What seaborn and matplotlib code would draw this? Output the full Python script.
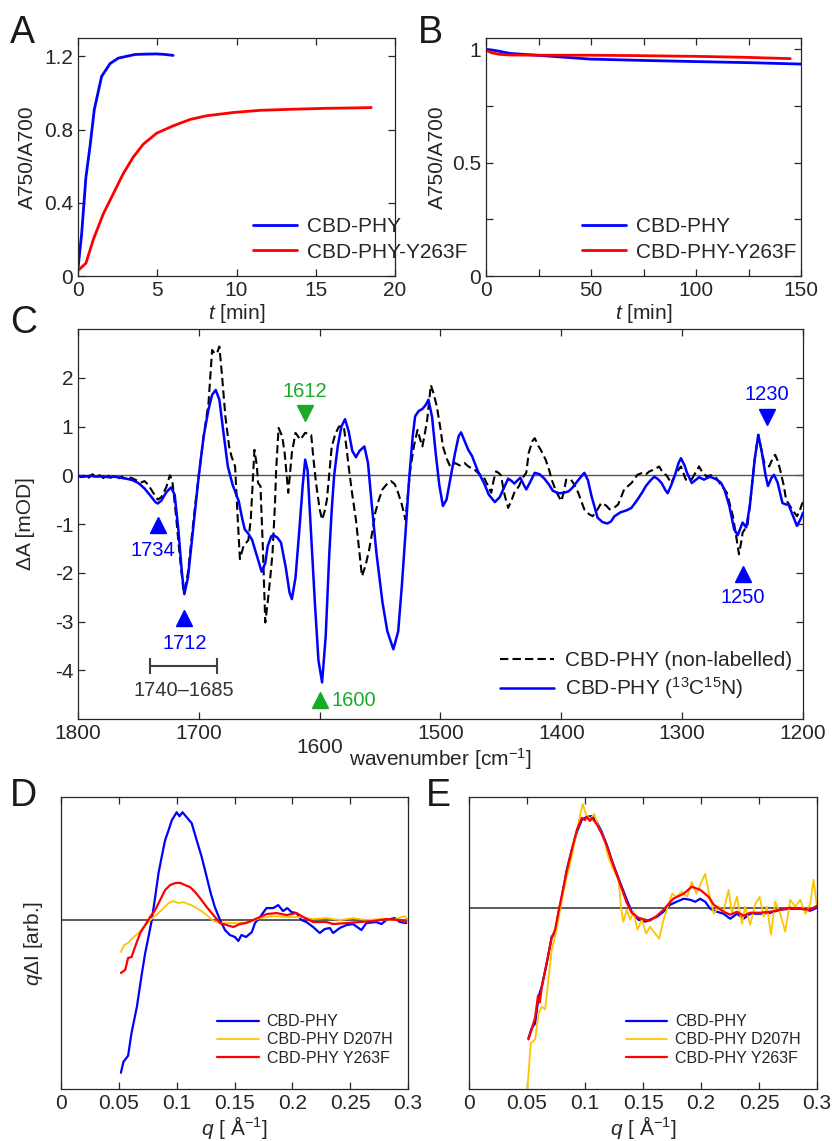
import numpy as np
import pandas as pd
import matplotlib
matplotlib.use("Agg")
import matplotlib.pyplot as plt
import seaborn as sns
from matplotlib.transforms import blended_transform_factory

# ---- A: dark reversion kinetics ----
t_wt = [0, 0.23, 0.5, 0.76, 1.03, 1.49, 2.02, 2.54, 3.07, 3.6, 4.3, 4.96, 5.5, 6.0]
r_wt = [0.04, 0.23, 0.54, 0.71, 0.91, 1.09, 1.16, 1.19, 1.20, 1.21, 1.212, 1.213, 1.21, 1.205]
t_y263 = [0, 0.5, 0.97, 1.6, 2.23, 2.86, 3.49, 4.12, 4.96, 6.0, 7.07, 8.1, 9.8, 11.5, 13.6, 15.7, 17.4, 18.5]
r_y263 = [0.03, 0.07, 0.2, 0.34, 0.45, 0.56, 0.65, 0.72, 0.78, 0.82, 0.855, 0.875, 0.893, 0.905,
          0.911, 0.916, 0.918, 0.92]

# ---- B: stability ----
tb_wt = [0, 4.9, 11.3, 27.2, 49.5, 75, 100, 126, 150]
rb_wt = [1.0, 0.994, 0.982, 0.972, 0.957, 0.951, 0.946, 0.941, 0.935]
tb_y263 = [0, 2.5, 6.5, 11.3, 27, 49.5, 75, 100, 122.6, 144.9]
rb_y263 = [0.997, 0.985, 0.978, 0.975, 0.974, 0.974, 0.972, 0.969, 0.965, 0.959]

# ---- C: FTIR difference spectra ----
wn_lab = [1800, 1795, 1790, 1785, 1780, 1775, 1770, 1765, 1760, 1755,
          1750, 1745, 1740, 1736, 1734, 1731, 1727, 1723, 1720, 1717,
          1714, 1712, 1709, 1706, 1703, 1700, 1696, 1692, 1689, 1686,
          1683, 1680, 1676, 1672, 1667, 1664, 1662, 1659, 1656, 1652,
          1648, 1645, 1643, 1640, 1638, 1635, 1632, 1628, 1625, 1623,
          1620, 1617, 1614, 1612, 1610, 1607, 1604, 1601, 1598, 1595,
          1592, 1590, 1588, 1585, 1582, 1579, 1576, 1573, 1570, 1567,
          1563, 1560, 1557, 1553, 1548, 1544, 1539, 1535, 1532, 1529,
          1526, 1523, 1521, 1518, 1515, 1512, 1510, 1507, 1504, 1501,
          1498, 1495, 1492, 1488, 1485, 1483, 1480, 1477, 1474, 1469,
          1464, 1460, 1455, 1451, 1448, 1444, 1441, 1439, 1436, 1434,
          1431, 1429, 1426, 1422, 1418, 1414, 1410, 1407, 1402, 1398,
          1394, 1391, 1386, 1381, 1378, 1375, 1370, 1366, 1362, 1359,
          1356, 1351, 1346, 1342, 1337, 1333, 1330, 1326, 1323, 1320,
          1317, 1314, 1312, 1309, 1306, 1303, 1301, 1298, 1296, 1292,
          1289, 1286, 1282, 1277, 1272, 1268, 1265, 1261, 1257, 1254,
          1252, 1250, 1247, 1244, 1240, 1237, 1234, 1231, 1229, 1226,
          1224, 1221, 1217, 1214, 1212, 1208, 1205, 1202, 1200]
dA_lab = [-0.02, -0.03, -0.01, -0.03, -0.02, -0.04, -0.03, -0.05, -0.07, -0.10,
          -0.16, -0.27, -0.42, -0.55, -0.58, -0.52, -0.35, -0.25, -0.40, -1.10,
          -2.00, -2.44, -2.10, -1.40, -0.70, 0.00, 0.80, 1.35, 1.65, 1.75,
          1.55, 0.95, 0.18, -0.20, -0.53, -0.90, -1.11, -1.20, -1.32, -1.65,
          -1.98, -1.80, -1.45, -1.25, -1.23, -1.28, -1.38, -1.90, -2.40, -2.54,
          -2.10, -1.18, -0.20, 0.32, 0.10, -1.25, -2.60, -3.80, -4.25, -3.30,
          -1.59, -0.70, 0.00, 0.60, 1.00, 1.15, 0.90, 0.50, 0.37, 0.50,
          0.59, 0.25, -0.57, -1.60, -2.61, -3.20, -3.57, -3.20, -2.27, -1.20,
          -0.09, 0.80, 1.21, 1.32, 1.36, 1.45, 1.55, 1.20, 0.46, -0.20,
          -0.63, -0.50, -0.09, 0.45, 0.80, 0.88, 0.70, 0.52, 0.40, 0.08,
          -0.16, -0.40, -0.55, -0.45, -0.29, -0.07, -0.12, -0.17, -0.10, -0.05,
          -0.20, -0.29, -0.15, 0.05, 0.02, -0.07, -0.20, -0.32, -0.37, -0.36,
          -0.33, -0.26, -0.10, 0.05, -0.10, -0.43, -0.87, -0.96, -0.99, -0.95,
          -0.84, -0.76, -0.72, -0.67, -0.50, -0.35, -0.22, -0.10, -0.03, -0.08,
          -0.16, -0.30, -0.37, -0.20, 0.00, 0.25, 0.35, 0.20, 0.05, -0.16,
          -0.10, -0.04, -0.09, -0.03, -0.08, -0.15, -0.29, -0.63, -1.11, -1.23,
          -1.10, -0.97, -1.07, -0.63, 0.32, 0.83, 0.46, 0.00, -0.22, -0.05,
          0.01, -0.15, -0.57, -0.60, -0.60, -0.85, -1.04, -0.90, -0.77]
wn_nl = [1800, 1797, 1794, 1791, 1788, 1785, 1782, 1779, 1776, 1773,
         1770, 1767, 1764, 1760, 1756, 1752, 1748, 1745, 1742, 1738,
         1734, 1731, 1727, 1724, 1722, 1719, 1716, 1713, 1712, 1709,
         1706, 1703, 1700, 1696, 1692, 1690, 1689, 1687, 1685, 1683,
         1681, 1678, 1675, 1673, 1670, 1668, 1666, 1663, 1659, 1657,
         1656, 1654, 1652, 1651, 1649, 1647, 1645, 1643, 1641, 1639,
         1637, 1636, 1634, 1631, 1629, 1626, 1623, 1620, 1616, 1614,
         1612, 1609, 1607, 1605, 1603, 1600, 1598, 1596, 1594, 1590,
         1587, 1584, 1580, 1578, 1576, 1573, 1570, 1567, 1565, 1562,
         1559, 1556, 1554, 1551, 1548, 1544, 1541, 1538, 1536, 1532,
         1529, 1527, 1525, 1522, 1519, 1517, 1515, 1513, 1511, 1508,
         1506, 1503, 1500, 1498, 1495, 1492, 1488, 1484, 1480, 1477,
         1472, 1469, 1464, 1461, 1458, 1456, 1454, 1452, 1450, 1447,
         1444, 1441, 1439, 1435, 1432, 1429, 1427, 1424, 1422, 1419,
         1417, 1413, 1410, 1408, 1404, 1400, 1398, 1396, 1392, 1389,
         1386, 1381, 1377, 1374, 1370, 1367, 1363, 1360, 1356, 1353,
         1348, 1342, 1337, 1333, 1330, 1327, 1323, 1319, 1316, 1313,
         1309, 1305, 1301, 1297, 1292, 1289, 1286, 1283, 1280, 1276,
         1272, 1269, 1263, 1258, 1255, 1253, 1251, 1250, 1248, 1246,
         1243, 1240, 1237, 1235, 1232, 1228, 1225, 1223, 1221, 1219,
         1216, 1214, 1211, 1209, 1205, 1203, 1201, 1200]
dA_nl = [0.00, -0.04, 0.01, -0.05, 0.02, -0.03, 0.00, -0.06, 0.01, -0.05,
         -0.02, -0.07, -0.03, -0.08, -0.05, -0.10, -0.15, -0.12, -0.19, -0.35,
         -0.50, -0.45, -0.25, 0.00, -0.10, -0.80, -1.60, -2.30, -2.40, -2.00,
         -1.30, -0.60, 0.00, 0.80, 1.48, 2.20, 2.57, 2.50, 2.50, 2.64,
         2.10, 1.20, 0.60, 0.39, 0.18, -0.80, -1.72, -1.45, -1.33, -0.90,
         -0.43, 0.52, 0.20, -0.16, -0.22, -1.50, -3.02, -2.60, -2.13, -1.59,
         -0.60, 0.12, 0.97, 0.80, 0.46, -0.36, 0.46, 0.87, 0.73, 0.80,
         0.87, 0.85, 0.83, 0.30, -0.16, -0.70, -0.91, -0.75, -0.50, 0.59,
         0.85, 1.00, 1.00, 0.60, 0.18, -0.40, -0.91, -1.60, -2.07, -1.85,
         -1.52, -1.10, -0.77, -0.50, -0.29, -0.17, -0.12, -0.18, -0.29, -0.60,
         -0.91, -0.40, 0.12, 0.60, 0.93, 0.75, 0.59, 0.85, 1.14, 1.85,
         1.70, 1.41, 0.95, 0.59, 0.35, 0.18, 0.25, 0.20, 0.25, 0.18,
         0.12, 0.05, -0.05, -0.20, -0.36, -0.10, 0.08, 0.05, 0.00, -0.40,
         -0.67, -0.50, -0.36, -0.22, -0.05, 0.05, 0.46, 0.70, 0.76, 0.60,
         0.52, 0.32, 0.10, -0.09, -0.35, -0.53, -0.35, -0.09, -0.09, -0.20,
         -0.36, -0.70, -0.80, -0.84, -0.70, -0.57, -0.62, -0.70, -0.66, -0.60,
         -0.29, -0.16, 0.01, 0.05, 0.02, 0.08, 0.12, 0.18, 0.05, 0.00,
         -0.16, 0.05, 0.18, -0.09, -0.08, 0.05, 0.18, 0.05, -0.02, 0.00,
         -0.05, -0.16, -0.36, -0.84, -1.30, -1.62, -1.35, -1.18, -1.10, -1.04,
         -0.40, 0.32, 0.83, 0.60, 0.25, 0.18, 0.35, 0.42, 0.30, 0.12,
         -0.20, -0.50, -0.62, -0.70, -0.84, -0.75, -0.60, -0.55]
assert len(wn_lab) == len(dA_lab) and len(wn_nl) == len(dA_nl)

# ---- D: SAXS/WAXS difference, dark-adapted ----
qd_wt = [0.0518, 0.054, 0.058, 0.061, 0.0656, 0.07, 0.0728, 0.0756, 0.0785, 0.0814,
         0.0843, 0.087, 0.09, 0.093, 0.0958, 0.1, 0.1024, 0.105, 0.1087, 0.113,
         0.1173, 0.1217, 0.126, 0.1294, 0.133, 0.1375, 0.1418, 0.146, 0.1504, 0.1533,
         0.156, 0.16, 0.165, 0.1677, 0.172, 0.1777, 0.1835, 0.1878, 0.192, 0.1956,
         0.1993, 0.2036, 0.208, 0.2122, 0.218, 0.2237, 0.228, 0.2324, 0.2353, 0.241,
         0.2468, 0.2525, 0.2597, 0.264, 0.2726, 0.277, 0.2813, 0.2885, 0.293, 0.2985]
id_wt = [-1.53, -1.42, -1.36, -1.13, -0.87, -0.53, -0.33, -0.17, 0.00, 0.23,
         0.47, 0.63, 0.80, 0.90, 1.00, 1.08, 1.04, 1.08, 1.03, 0.97,
         0.80, 0.63, 0.43, 0.27, 0.13, 0.00, -0.10, -0.15, -0.17, -0.21,
         -0.15, -0.17, -0.12, -0.03, 0.03, 0.12, 0.12, 0.15, 0.09, 0.12,
         0.08, 0.07, 0.00, -0.02, -0.07, -0.13, -0.09, -0.08, -0.13, -0.08,
         -0.05, -0.04, -0.10, -0.03, -0.02, -0.04, 0.00, 0.02, -0.02, -0.03]
qd_d207h = [0.0518, 0.0546, 0.058, 0.0627, 0.067, 0.0713, 0.0756, 0.08, 0.0843, 0.0886,
            0.093, 0.0972, 0.1015, 0.1058, 0.11, 0.1145, 0.1202, 0.126, 0.1317, 0.1375,
            0.146, 0.1547, 0.1633, 0.172, 0.1835, 0.195, 0.2065, 0.218, 0.2295, 0.241,
            0.2525, 0.264, 0.2755, 0.287, 0.297, 0.3]
id_d207h = [-0.32, -0.25, -0.23, -0.17, -0.13, -0.07, -0.02, 0.03, 0.07, 0.12,
            0.17, 0.19, 0.17, 0.18, 0.16, 0.14, 0.10, 0.05, -0.01, -0.03,
            -0.03, -0.03, -0.02, 0.02, 0.04, 0.03, 0.03, 0.01, 0.02, 0.00,
            0.02, 0.00, 0.01, 0.00, 0.04, 0.00]
qd_y263f = [0.0518, 0.0555, 0.058, 0.061, 0.064, 0.0685, 0.0728, 0.077, 0.0814, 0.0857,
            0.09, 0.0943, 0.0986, 0.103, 0.1073, 0.1116, 0.116, 0.1202, 0.126, 0.1317,
            0.1375, 0.1432, 0.149, 0.1547, 0.16, 0.166, 0.172, 0.1777, 0.1864, 0.195,
            0.2036, 0.2094, 0.218, 0.2295, 0.2353, 0.2468, 0.2582, 0.27, 0.2813, 0.293,
            0.2985]
id_y263f = [-0.53, -0.50, -0.38, -0.37, -0.27, -0.13, -0.05, 0.03, 0.10, 0.20,
            0.30, 0.35, 0.37, 0.373, 0.35, 0.33, 0.28, 0.22, 0.13, 0.05,
            -0.03, -0.05, -0.07, -0.04, -0.03, 0.00, 0.03, 0.06, 0.07, 0.05,
            0.07, 0.03, -0.02, -0.02, -0.04, -0.03, -0.02, -0.01, 0.01, 0.00,
            -0.02]

# ---- E: normalised ----
qe_wt = [0.0512, 0.054, 0.057, 0.06, 0.0627, 0.067, 0.0713, 0.0742, 0.077, 0.08,
         0.0843, 0.0886, 0.093, 0.0972, 0.1015, 0.106, 0.11, 0.1145, 0.1188, 0.123,
         0.1274, 0.1317, 0.136, 0.1403, 0.146, 0.1519, 0.156, 0.162, 0.1677, 0.1734,
         0.179, 0.185, 0.1907, 0.195, 0.1993, 0.2036, 0.208, 0.2137, 0.2194, 0.2252,
         0.231, 0.2367, 0.2424, 0.251, 0.26, 0.2683, 0.277, 0.2856, 0.2942, 0.3]
ie_wt = [-1.31, -1.21, -1.16, -0.89, -0.79, -0.56, -0.29, -0.26, -0.06, 0.11,
         0.38, 0.58, 0.76, 0.88, 0.91, 0.92, 0.86, 0.76, 0.63, 0.48,
         0.34, 0.21, 0.08, -0.04, -0.12, -0.14, -0.12, -0.09, -0.04, 0.03,
         0.06, 0.09, 0.08, 0.06, 0.09, 0.06, -0.01, -0.04, -0.06, -0.11,
         -0.06, -0.11, -0.06, -0.06, -0.05, -0.02, -0.01, -0.01, -0.03, 0.00]
qe_d207h = [0.0503, 0.0532, 0.057, 0.06, 0.0627, 0.0656, 0.0685, 0.0713, 0.0742, 0.077,
            0.08, 0.0843, 0.0886, 0.093, 0.0958, 0.098, 0.101, 0.1044, 0.108, 0.1116,
            0.116, 0.12, 0.1245, 0.129, 0.131, 0.133, 0.136, 0.139, 0.1418, 0.1452,
            0.149, 0.1527, 0.156, 0.1605, 0.164, 0.1677, 0.1706, 0.175, 0.179, 0.1835,
            0.188, 0.192, 0.196, 0.1993, 0.2036, 0.207, 0.211, 0.2151, 0.2194, 0.2238,
            0.2266, 0.231, 0.2353, 0.238, 0.2424, 0.2468, 0.2505, 0.254, 0.2568, 0.2603,
            0.264, 0.2683, 0.2726, 0.277, 0.2813, 0.2856, 0.29, 0.2942, 0.297, 0.3]
ie_d207h = [-1.82, -1.36, -1.32, -1.06, -0.99, -1.02, -0.72, -0.42, -0.29, -0.12,
            0.08, 0.31, 0.51, 0.78, 0.93, 1.04, 0.93, 0.89, 0.94, 0.81,
            0.71, 0.51, 0.38, 0.28, 0.01, -0.14, -0.02, -0.12, -0.04, -0.22,
            -0.12, -0.26, -0.19, -0.26, -0.31, -0.12, -0.02, 0.14, 0.11, 0.16,
            0.11, 0.26, 0.14, 0.23, 0.34, 0.14, -0.06, 0.01, -0.04, 0.18,
            -0.06, 0.11, -0.16, 0.01, -0.17, 0.04, 0.11, -0.09, 0.01, -0.27,
            0.06, -0.06, -0.24, 0.08, 0.01, 0.08, -0.06, 0.04, 0.28, 0.01]
qe_y263f = [0.0512, 0.054, 0.057, 0.0595, 0.061, 0.0627, 0.067, 0.0713, 0.0742, 0.077,
            0.08, 0.0843, 0.0886, 0.093, 0.0972, 0.1, 0.1015, 0.1044, 0.106, 0.11,
            0.1145, 0.1188, 0.123, 0.1274, 0.1317, 0.136, 0.1403, 0.146, 0.1519, 0.156,
            0.162, 0.1677, 0.176, 0.185, 0.192, 0.1993, 0.2065, 0.211, 0.2194, 0.2252,
            0.231, 0.2367, 0.2424, 0.251, 0.26, 0.2683, 0.277, 0.2856, 0.2942, 0.3]
ie_y263f = [-1.32, -1.22, -1.10, -0.88, -0.95, -0.80, -0.55, -0.30, -0.22, -0.05,
            0.12, 0.37, 0.58, 0.78, 0.90, 0.88, 0.91, 0.87, 0.90, 0.84,
            0.74, 0.62, 0.47, 0.33, 0.19, 0.05, -0.05, -0.10, -0.12, -0.13,
            -0.08, -0.02, 0.09, 0.14, 0.21, 0.18, 0.11, 0.03, -0.04, -0.07,
            -0.04, -0.08, -0.05, -0.05, -0.04, -0.02, 0.00, -0.01, -0.02, 0.02]

BLUE, RED, YEL, GREEN = "#0000ff", "#ff0000", "#ffc400", "#1aaa2a"
INK = "#262626"

sns.set_theme(style="ticks")
plt.rcParams["font.family"] = ["Liberation Sans", "DejaVu Sans"]
plt.rcParams.update({
    "mathtext.fontset": "custom",
    "mathtext.rm": "Liberation Sans",
    "mathtext.it": "Liberation Sans:italic",
    "mathtext.bf": "Liberation Sans:bold",
    "axes.edgecolor": INK, "axes.linewidth": 0.9,
    "xtick.color": INK, "ytick.color": INK,
    "xtick.direction": "in", "ytick.direction": "in",
    "xtick.top": True, "ytick.right": True,
    "xtick.major.size": 5, "ytick.major.size": 5,
    "xtick.minor.size": 5, "ytick.minor.size": 5,
    "xtick.major.width": 0.9, "ytick.major.width": 0.9,
    "xtick.labelsize": 15, "ytick.labelsize": 15,
    "axes.labelsize": 15, "axes.labelcolor": INK,
    "text.color": INK,
})

W, H = 832, 1141
fig = plt.figure(figsize=(W / 100, H / 100), dpi=100)


def px_axes(l, t, r, b):
    return fig.add_axes([l / W, 1 - b / H, (r - l) / W, (b - t) / H])


def letter(x, y, s):
    fig.text(x / W, 1 - y / H, s, fontsize=27, color="#1a1a1a", va="baseline", ha="left")


# ---------- A ----------
axA = px_axes(78, 38, 395, 276)
sns.lineplot(x=t_wt, y=r_wt, ax=axA, color=BLUE, lw=2, label="CBD-PHY")
sns.lineplot(x=t_y263, y=r_y263, ax=axA, color=RED, lw=2, label="CBD-PHY-Y263F")
axA.set_xlim(0, 20)
axA.set_ylim(0, 1.3)
axA.set_xticks([0, 5, 10, 15, 20])
axA.set_yticks([0, 0.4, 0.8, 1.2])
axA.set_yticklabels(["0", "0.4", "0.8", "1.2"])
axA.set_xlabel(r"$t$ [min]")
axA.set_ylabel("A750/A700")
axA.xaxis.set_label_coords(0.5, -0.11)
axA.yaxis.set_label_coords(-0.13, 0.5)
axA.legend(frameon=False, loc="lower left", bbox_to_anchor=(0.552, 0.06), borderaxespad=0,
           borderpad=0, fontsize=15, handlelength=2.1, handletextpad=0.5, labelspacing=0.3)

# ---------- B ----------
axB = px_axes(486, 38, 801, 276)
sns.lineplot(x=tb_wt, y=rb_wt, ax=axB, color=BLUE, lw=2, label="CBD-PHY")
sns.lineplot(x=tb_y263, y=rb_y263, ax=axB, color=RED, lw=2, label="CBD-PHY-Y263F")
axB.set_xlim(0, 150)
axB.set_ylim(0, 1.05)
axB.set_xticks([0, 50, 100, 150])
axB.set_xticks([25, 75, 125], minor=True)
axB.set_yticks([0, 0.5, 1])
axB.set_yticks([0.25, 0.75], minor=True)
axB.set_yticklabels(["0", "0.5", "1"])
axB.tick_params(which="minor", direction="in", top=True, right=True, width=0.9)
axB.set_xlabel(r"$t$ [min]")
axB.set_ylabel("A750/A700")
axB.xaxis.set_label_coords(0.5, -0.11)
axB.yaxis.set_label_coords(-0.124, 0.5)
axB.legend(frameon=False, loc="lower left", bbox_to_anchor=(0.305, 0.06), borderaxespad=0,
           borderpad=0, fontsize=15, handlelength=2.1, handletextpad=0.5, labelspacing=0.3)

# ---------- C ----------
axC = px_axes(78, 329, 803, 719)
axC.axhline(0, color="#555555", lw=1, zorder=1)
sns.lineplot(x=wn_nl, y=dA_nl, ax=axC, color="black", lw=1.5, linestyle="--",
             label="CBD-PHY (non-labelled)", zorder=2)
axC.lines[-1].set_dashes([4, 2])
sns.lineplot(x=wn_lab, y=dA_lab, ax=axC, color=BLUE, lw=1.8,
             label=r"CBD-PHY ($^{13}$C$^{15}$N)", zorder=3)
axC.set_xlim(1800, 1200)
axC.set_ylim(-5, 3)
axC.set_yticks([-4, -3, -2, -1, 0, 1, 2])
axC.set_yticklabels(["-4", "-3", "-2", "-1", "0", "1", "2"])
cticks = [1800, 1700, 1600, 1500, 1400, 1300, 1200]
axC.set_xticks(cticks)
axC.set_xticklabels(["" if v == 1600 else str(v) for v in cticks])
trC = blended_transform_factory(axC.transData, axC.transAxes)
axC.text(1600, -0.074, "1600", transform=trC, ha="center", va="center", fontsize=15)
axC.set_xlabel(r"wavenumber [cm$^{-1}$]")
axC.xaxis.set_label_coords(0.5, -0.07)
axC.set_ylabel("ΔA [mOD]")
axC.yaxis.set_label_coords(-0.059, 0.5)
axC.legend(frameon=False, loc="lower left", bbox_to_anchor=(0.582, 0.045), borderaxespad=0,
           borderpad=0, fontsize=15, handlelength=2.6, handletextpad=0.5, labelspacing=0.25)

# peak markers
peak_wn = [1734, 1712, 1612, 1600, 1250, 1230]
peak_col = [BLUE, BLUE, GREEN, GREEN, BLUE, BLUE]
peak_mark = ["^", "^", "v", "^", "^", "v"]
peak_my = [-1.02, -2.92, 1.27, -4.62, -2.03, 1.20]
peak_tx = [1738, 1712, 1612, 1590, 1250, 1230]
peak_ty = [-1.55, -3.45, 1.71, -4.63, -2.50, 1.66]
for w, c, m, my, tx, ty in zip(peak_wn, peak_col, peak_mark, peak_my, peak_tx, peak_ty):
    axC.plot(w, my, marker=m, color=c, ms=11, ls="none", zorder=4)
    axC.text(tx, ty, str(w), color=c, fontsize=14.5, ha="left" if w == 1600 else "center",
             va="center")
axC.errorbar(1712.5, -3.92, xerr=27.5, color="#404040", lw=1.5, capsize=6, capthick=1.5)
axC.text(1712.5, -4.42, "1740–1685", color="#333333", fontsize=14.5, ha="center", va="center")

# ---------- D / E ----------
def saxs_axes(ax, series, ylim):
    ax.axhline(0, color="#404040", lw=1.2, zorder=1)
    for q, v, col, lab, lw in series:
        sns.lineplot(x=q, y=v, ax=ax, color=col, lw=lw, label=lab, zorder=2)
    ax.set_xlim(0, 0.3)
    ax.set_ylim(*ylim)
    ax.set_xticks([0, 0.05, 0.1, 0.15, 0.2, 0.25, 0.3])
    ax.set_xticklabels(["0", "0.05", "0.1", "0.15", "0.2", "0.25", "0.3"])
    ax.set_yticks([])
    ax.set_xlabel(r"$q$ [ Å$^{-1}$]")
    ax.xaxis.set_label_coords(0.5, -0.085)
    ax.legend(frameon=False, loc="lower left", bbox_to_anchor=(0.45, 0.08), borderaxespad=0,
              borderpad=0, fontsize=11.5, handlelength=2.6, handletextpad=0.5, labelspacing=0.2)


axD = px_axes(61, 797, 408, 1089)
saxs_axes(axD, [(qd_wt, id_wt, BLUE, "CBD-PHY", 1.6),
                (qd_d207h, id_d207h, YEL, "CBD-PHY D207H", 1.3),
                (qd_y263f, id_y263f, RED, "CBD-PHY Y263F", 1.6)], (-1.693, 1.233))
axD.set_ylabel(r"$q$ΔI [arb.]")
axD.yaxis.set_label_coords(-0.045, 0.5)

axE = px_axes(469, 797, 817, 1089)
saxs_axes(axE, [(qe_wt, ie_wt, BLUE, "CBD-PHY", 1.6),
                (qe_d207h, ie_d207h, YEL, "CBD-PHY D207H", 1.3),
                (qe_y263f, ie_y263f, RED, "CBD-PHY Y263F", 1.6)], (-1.817, 1.11))

letter(10, 43, "A")
letter(418, 43, "B")
letter(10, 333, "C")
letter(10, 806, "D")
letter(426, 806, "E")

fig.savefig("out.png", dpi=100)
